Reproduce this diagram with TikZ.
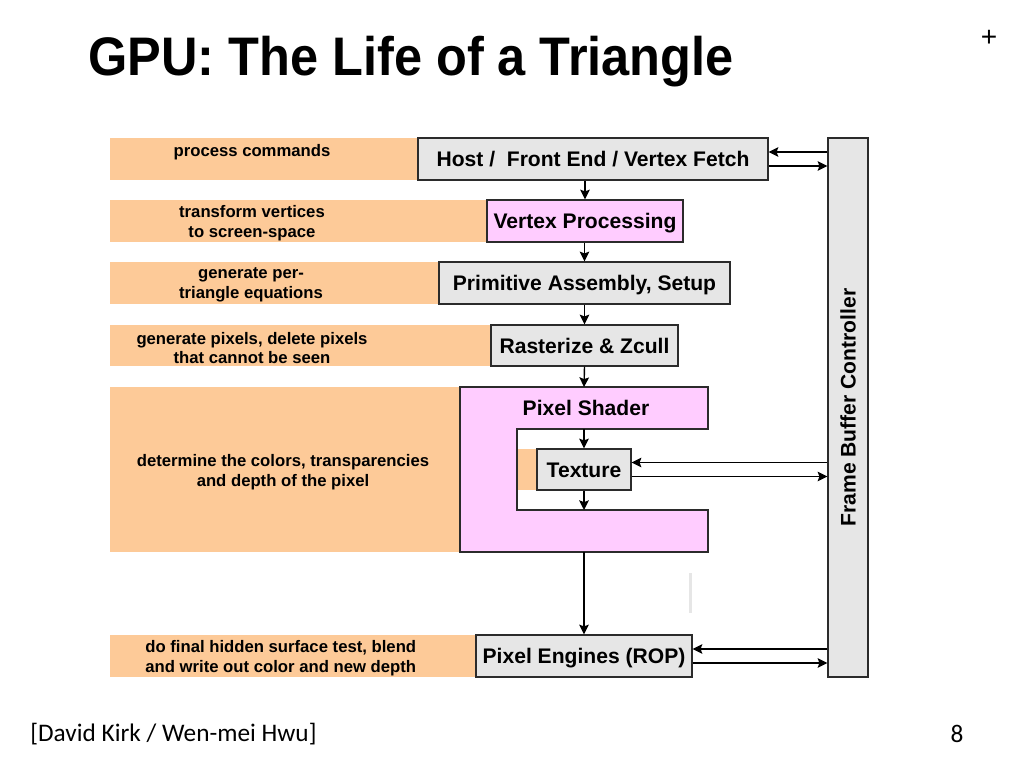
\documentclass[tikz,border=0pt]{standalone}
\usepackage{fontspec}
\setmainfont{Liberation Sans}
\newfontfamily\footfont{Carlito}
\usepackage{graphicx}
\usetikzlibrary{arrows.meta,positioning,calc}
\definecolor{gpuPeach}{HTML}{FDCA98}
\definecolor{gpuPink}{HTML}{FFCCFF}
\definecolor{gpuGrey}{HTML}{E6E6E6}
\definecolor{gpuEdge}{HTML}{2B2B2B}

\begin{document}
\begin{tikzpicture}[x=0.02cm,y=-0.02cm,
  stagebox/.style={draw=gpuEdge,line width=0.8pt,fill=gpuGrey,inner sep=0pt,
    minimum height=0.84cm,text height=8.6pt,text depth=0pt,
    font=\fontsize{12}{14}\selectfont\bfseries},
  shaderbox/.style={stagebox,fill=gpuPink},
  bandtext/.style={align=center,inner sep=0pt,font=\fontsize{9.5}{11.3}\selectfont\bfseries},
  flow/.style={-{Stealth[length=5.5pt,width=5.5pt,inset=1pt]},line width=0.8pt}]
  \useasboundingbox (0,0) rectangle (1024,768);

  % title and page furniture
  \node[anchor=base west,inner sep=0pt,font=\fontsize{30.9}{36}\selectfont\bfseries] (title)
    at (88,75) {\scalebox{0.93}[1]{GPU: The Life of a Triangle}};
  \node[inner sep=0pt,font=\fontsize{16}{18}\selectfont] (plus) at (989,38) {+};
  \node[anchor=west,inner sep=0pt,font=\footfont\fontsize{14.4}{17}\selectfont] (credit)
    at (30,734) {[David Kirk / Wen-mei Hwu]};
  \node[inner sep=0pt,font=\footfont\fontsize{14.4}{17}\selectfont] (pageno) at (957,734) {8};

  % peach bands behind the stages
  \fill[gpuPeach] (110,138) rectangle (420,180);
  \fill[gpuPeach] (110,200) rectangle (488,242);
  \fill[gpuPeach] (110,262) rectangle (440,304);
  \fill[gpuPeach] (110,325) rectangle (491,366);
  \fill[gpuPeach] (110,387) rectangle (460,552);
  \fill[gpuPeach] (517,449) rectangle (537,490);
  \fill[gpuPeach] (110,635) rectangle (476,677);

  \node[bandtext] (cmdText) at (252,152) {process commands};
  \node[bandtext] (vtxText) at (252,223) {transform vertices\\to screen-space};
  \node[bandtext] (setupText) at (251,285) {generate per-\\triangle equations};
  \node[bandtext] (rastText) at (252,348) {generate pixels, delete pixels\\that cannot be seen};
  \node[bandtext] (shadeText) at (283,472) {determine the colors, transparencies\\and depth of the pixel};
  \node[bandtext,anchor=west,align=left] (ropText) at (145,658)
    {do final hidden surface test, blend\\and write out color and new depth};

  % pixel shader wraps round the texture unit
  \draw[fill=gpuPink,draw=gpuEdge,line width=0.8pt]
    (460,387) -- (708,387) -- (708,429) -- (517,429) -- (517,510)
    -- (708,510) -- (708,552) -- (460,552) -- cycle;
  \coordinate (psTop) at (584,387);
  \coordinate (psInTop) at (584,429);
  \coordinate (psInBot) at (584,510);
  \coordinate (psBot) at (584,552);
  \node[inner sep=0pt,text height=8.6pt,text depth=0pt,font=\fontsize{12}{14}\selectfont\bfseries]
    (ps) at (586,408) {Pixel Shader};

  % pipeline stages
  \node[stagebox,minimum width=7cm] (host) at (593,159) {Host /\ \ Front End / Vertex Fetch};
  \node[shaderbox,minimum width=3.92cm] (vp) at (585,221) {Vertex Processing};
  \node[stagebox,minimum width=5.82cm] (pa) at (584.5,283) {Primitive Assembly, Setup};
  \node[stagebox,minimum width=3.74cm,minimum height=0.82cm] (rast) at (584.5,345.5) {Rasterize \& Zcull};
  \node[stagebox,minimum width=1.88cm,minimum height=0.82cm] (tex) at (584,469.5) {Texture};
  \node[stagebox,minimum width=4.32cm] (rop) at (584,656) {Pixel Engines (ROP)};
  \node[stagebox,text height=,minimum width=0.8cm,minimum height=10.78cm] (fbc) at (848,407.5)
    {\rotatebox{90}{Frame Buffer Controller}};

  \draw[gpuGrey,line width=1.7pt] (690,573) -- (690,613);

  % flow down the pipe
  \draw[flow] (host.south -| vp.north) -- (vp.north);
  \draw[flow] (vp.south -| pa.north) -- (pa.north);
  \draw[flow] (pa.south) -- (rast.north);
  \draw[flow] (rast.south) -- (psTop);
  \draw[flow] (psInTop) -- (tex.north);
  \draw[flow] (tex.south) -- (psInBot);
  \draw[flow] (psBot) -- (rop.north);

  % traffic with the frame buffer
  \draw[flow] ($(host.east -| fbc.west)+(0,-7)$) -- ($(host.east)+(0,-7)$);
  \draw[flow] ($(host.east)+(0,7)$) -- ($(host.east -| fbc.west)+(0,7)$);
  \draw[flow] ($(tex.east -| fbc.west)+(0,-7)$) -- ($(tex.east)+(0,-7)$);
  \draw[flow] ($(tex.east)+(0,7)$) -- ($(tex.east -| fbc.west)+(0,7)$);
  \draw[flow] ($(rop.east -| fbc.west)+(0,-7)$) -- ($(rop.east)+(0,-7)$);
  \draw[flow] ($(rop.east)+(0,7)$) -- ($(rop.east -| fbc.west)+(0,7)$);
\end{tikzpicture}
\end{document}
